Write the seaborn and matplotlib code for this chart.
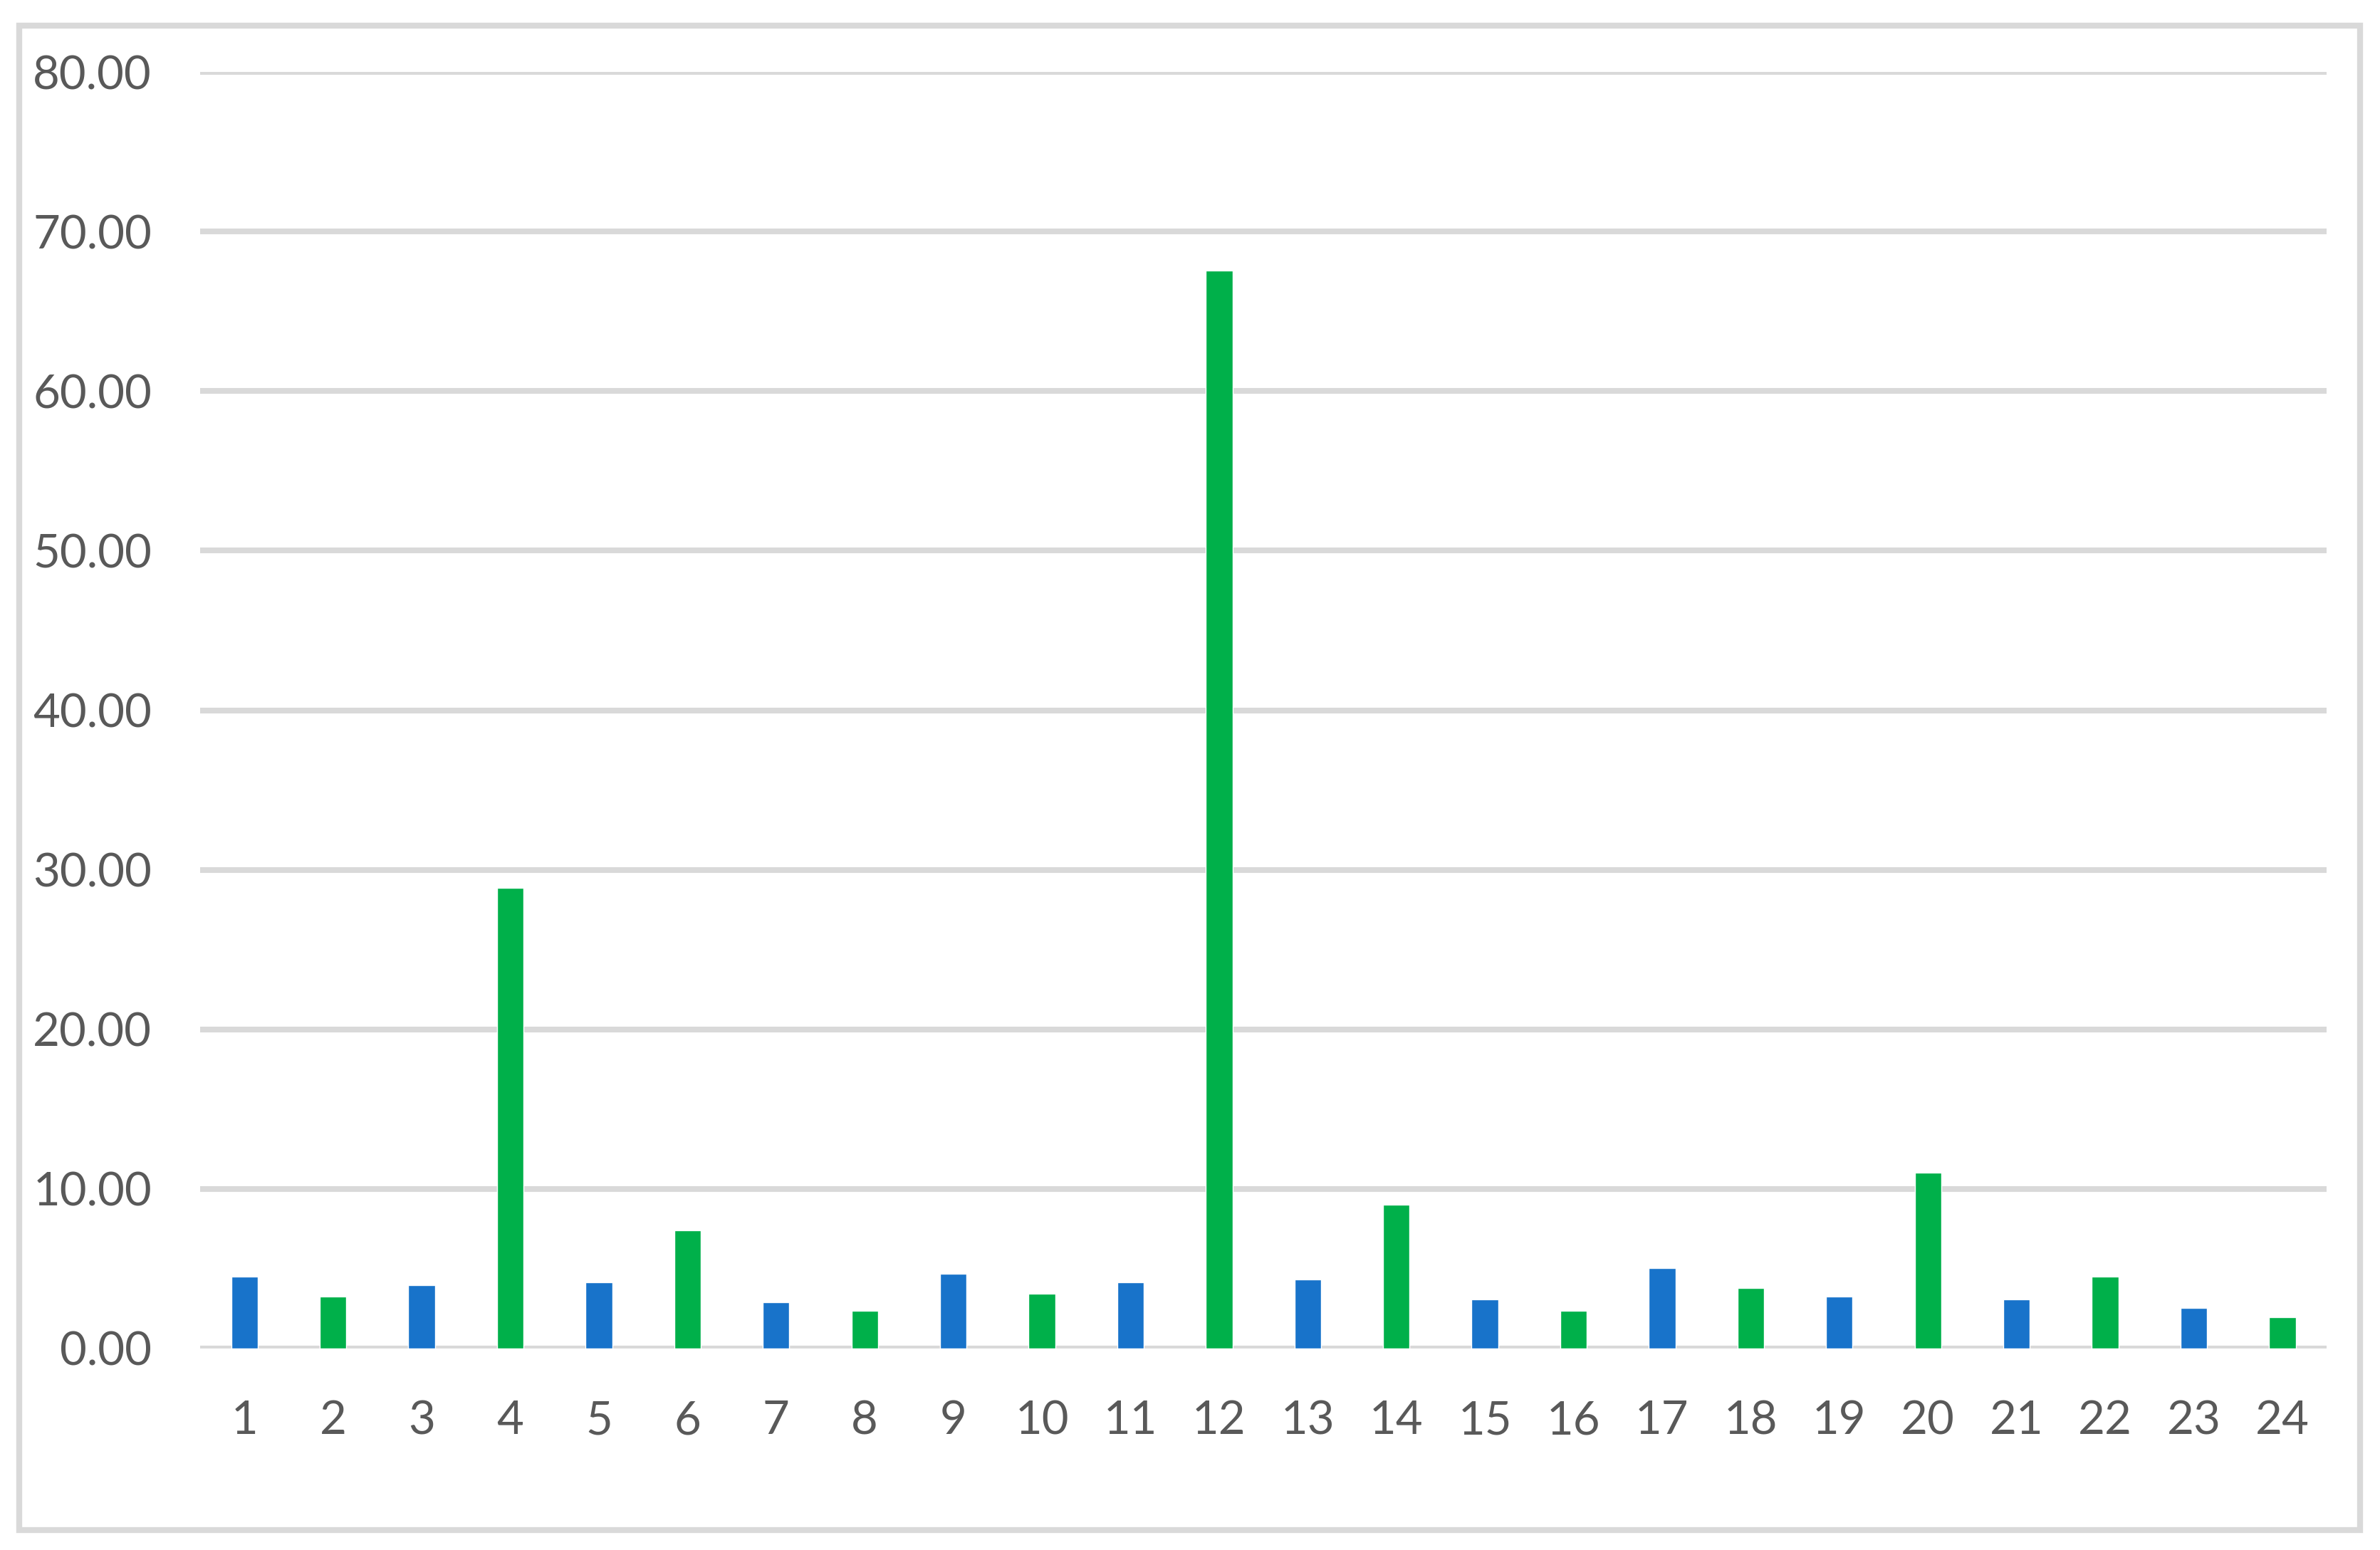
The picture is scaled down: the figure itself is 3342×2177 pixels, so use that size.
import numpy as np
import pandas as pd
import seaborn as sns
from matplotlib import pyplot as plt
from matplotlib.patches import Rectangle

sns.set_style('white')
plt.rcParams['font.family'] = ['Lato', 'DejaVu Sans']

samples = [str(i) for i in range(1, 25)]
values = [4.51, 3.26, 3.97, 28.88, 4.15, 7.41, 2.90, 2.35, 4.69, 3.44, 4.15, 67.55,
          4.33, 9.01, 3.08, 2.35, 5.04, 3.79, 3.26, 11.02, 3.08, 4.51, 2.54, 1.98]
groups = ['odd' if i % 2 == 1 else 'even' for i in range(1, 25)]
yticks = [0, 10, 20, 30, 40, 50, 60, 70, 80]

data = pd.DataFrame({'Sample': samples, 'Value': values, 'Group': groups})

fig = plt.figure(figsize=(33.42, 21.77), dpi=100)
ax = fig.add_axes([0.0841, 0.13, 0.8935, 0.8236])

sns.barplot(x='Sample', y='Value', hue='Group', data=data, order=samples,
            palette={'odd': '#1873CA', 'even': '#00B04A'}, dodge=False,
            saturation=1, width=0.3, legend=False, ax=ax, zorder=3)

ax.set_ylim(0, 80)
ax.set_xlim(-0.5, 23.5)
ax.set_yticks(yticks)
ax.set_yticklabels(['%.2f' % t for t in yticks])
ax.yaxis.grid(True, color='#D9D9D9', linewidth=5.8)
ax.set_axisbelow(True)
for s in ax.spines.values():
    s.set_visible(False)
ax.tick_params(axis='y', length=0, pad=49, labelsize=47, labelcolor='#595959')
ax.tick_params(axis='x', length=0, pad=52, labelsize=47, labelcolor='#595959')
ax.set_xlabel('')
ax.set_ylabel('')

# outer chart border
fig.patches.append(Rectangle((27 / 3342, 28 / 2177), (3314 - 27) / 3342, (2141 - 28) / 2177,
                             transform=fig.transFigure, fill=False,
                             edgecolor='#D9D9D9', linewidth=6))

plt.savefig('out.png', dpi=100)
